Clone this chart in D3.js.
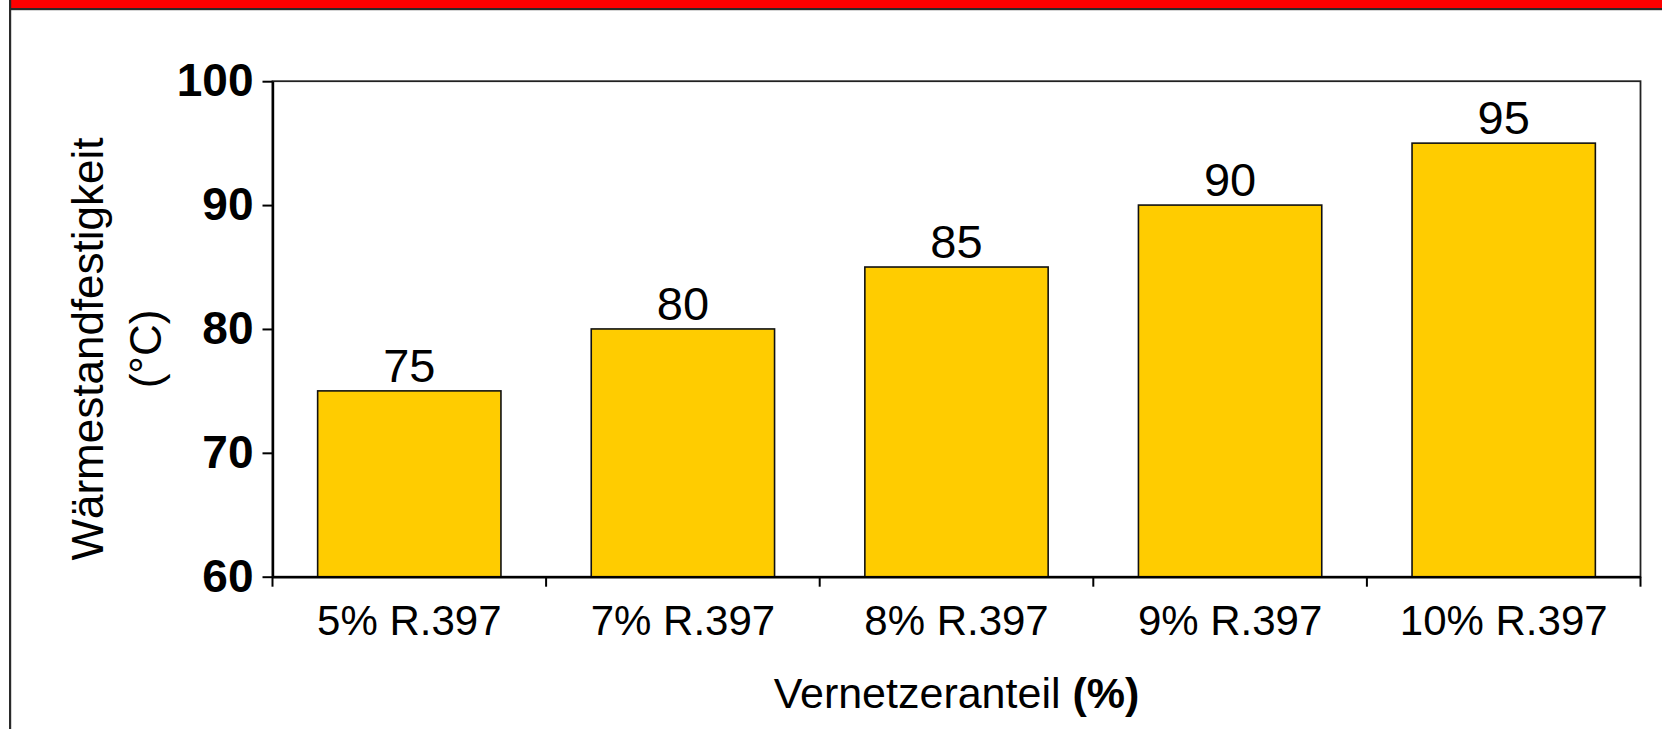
<!DOCTYPE html>
<html>
<head>
<meta charset="utf-8">
<script src="https://cdn.jsdelivr.net/npm/d3@7"></script>
<style>
  html, body { margin: 0; padding: 0; background: #fff; }
  svg { display: block; }
  text { font-family: "Liberation Sans", Arial, sans-serif; fill: #000; }
</style>
</head>
<body>
<script>
const categories = ["5% R.397", "7% R.397", "8% R.397", "9% R.397", "10% R.397"];
const values = [75, 80, 85, 90, 95];
const yTicks = [60, 70, 80, 90, 100];
const yTitleLines = ["Wärmestandfestigkeit", "(°C)"];
const xTitleMain = "Vernetzeranteil ";
const xTitleBold = "(%)";

const W = 1662, H = 729;
const svg = d3.select("body").append("svg").attr("width", W).attr("height", H);

// slide frame
svg.append("rect").attr("x", 11).attr("y", 0).attr("width", W - 11).attr("height", 8).attr("fill", "#FF0000");
svg.append("rect").attr("x", 9).attr("y", 8).attr("width", W - 9).attr("height", 2.2).attr("fill", "#2a2a2a");
svg.append("rect").attr("x", 9).attr("y", 0).attr("width", 2.2).attr("height", H).attr("fill", "#2a2a2a");

const pLeft = 272.5, pRight = 1640.5, pTop = 81.2, pBottom = 576.7;

const x = d3.scaleBand().domain(categories).range([pLeft, pRight]).paddingInner(0.33).paddingOuter(0.165);
const y = d3.scaleLinear().domain([60, 100]).range([pBottom, pTop]);

// plot frame
svg.append("rect").attr("x", pLeft).attr("y", pTop).attr("width", pRight - pLeft).attr("height", pBottom - pTop)
  .attr("fill", "none").attr("stroke", "#222").attr("stroke-width", 1.8);

// bars
svg.append("g").selectAll("rect").data(values).join("rect")
  .attr("x", (d, i) => x(categories[i]))
  .attr("y", d => y(d))
  .attr("width", x.bandwidth())
  .attr("height", d => y(60) - y(d))
  .attr("fill", "#FFCC00")
  .attr("stroke", "#111")
  .attr("stroke-width", 1.6);

// value labels
svg.append("g").selectAll("text").data(values).join("text")
  .attr("x", (d, i) => x(categories[i]) + x.bandwidth() / 2)
  .attr("y", d => y(d) - 9)
  .attr("text-anchor", "middle")
  .style("font-size", "47px")
  .text(d => d);

// y axis
const yAxis = svg.append("g").attr("transform", `translate(${pLeft},0)`)
  .call(d3.axisLeft(y).tickValues(yTicks).tickSizeInner(10).tickSizeOuter(0).tickPadding(9).tickFormat(d3.format("d")));
yAxis.select(".domain").attr("stroke", "#000").attr("stroke-width", 2.4);
yAxis.selectAll(".tick line").attr("stroke", "#000").attr("stroke-width", 2);
yAxis.selectAll(".tick text").attr("fill", "#000")
  .style("font-family", "'Liberation Sans', Arial, sans-serif")
  .style("font-size", "46px").style("font-weight", "bold");

// x axis (labels at band centers, ticks at band boundaries)
const xAxis = svg.append("g").attr("transform", `translate(0,${pBottom})`)
  .call(d3.axisBottom(x).tickSize(0).tickPadding(28));
xAxis.select(".domain").attr("stroke", "#000").attr("stroke-width", 2.4);
xAxis.selectAll(".tick text").attr("fill", "#000")
  .style("font-family", "'Liberation Sans', Arial, sans-serif")
  .style("font-size", "42px");

const boundaries = d3.range(categories.length + 1).map(i => pLeft + i * x.step());
xAxis.append("g").selectAll("line").data(boundaries).join("line")
  .attr("x1", d => d).attr("x2", d => d)
  .attr("y1", 0).attr("y2", 10)
  .attr("stroke", "#000").attr("stroke-width", 2);

// y title
const yt = svg.append("text")
  .attr("transform", "translate(103,349) rotate(-90)")
  .attr("text-anchor", "middle")
  .style("font-size", "44px");
yt.selectAll("tspan").data(yTitleLines).join("tspan")
  .attr("x", 0)
  .attr("dy", (d, i) => i === 0 ? 0 : 58)
  .text(d => d);

// x title
const xt = svg.append("text")
  .attr("x", (pLeft + pRight) / 2)
  .attr("y", 708)
  .attr("text-anchor", "middle")
  .style("font-size", "43px");
xt.append("tspan").text(xTitleMain);
xt.append("tspan").style("font-weight", "bold").text(xTitleBold);
</script>
</body>
</html>
